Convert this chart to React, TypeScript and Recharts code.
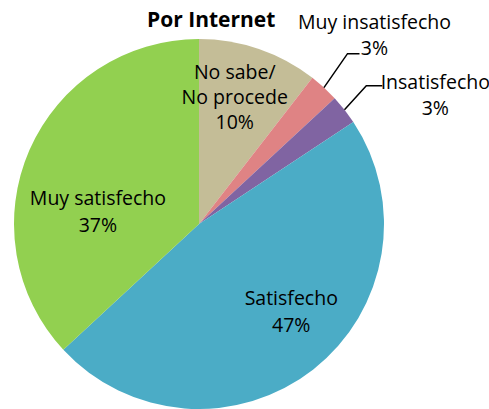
import React from 'react';
import { PieChart, Pie, Cell } from 'recharts';

const categories = ['No sabe/\nNo procede', 'Muy insatisfecho', 'Insatisfecho', 'Satisfecho', 'Muy satisfecho'];
const shares = [10.5, 2.6, 2.6, 47.4, 36.9];
const percentLabels = ['10%', '3%', '3%', '47%', '37%'];
const colors = ['#C4BD97', '#DF8384', '#8064A2', '#4BACC6', '#92D050'];
const title = 'Por Internet';

const data = categories.map((name, i) => ({ name, value: shares[i], pct: percentLabels[i] }));

const FONT = '"Open Sans", Lato, sans-serif';
const FS = 19.5;
const RAD = Math.PI / 180;

type Layout =
  | { kind: 'inner'; r: number; dA: number; lh: number }
  | { kind: 'outer'; ext: number; dA: number; run: number; mode: 'pctOnLine' | 'nameOnLine' };

const layouts: Layout[] = [
  { kind: 'inner', r: 0.714, dA: 3.2, lh: 25 },
  { kind: 'outer', ext: 41, dA: 1.4, run: 12, mode: 'pctOnLine' },
  { kind: 'outer', ext: 32, dA: 1.4, run: 16, mode: 'nameOnLine' },
  { kind: 'inner', r: 0.688, dA: 8.3, lh: 27 },
  { kind: 'inner', r: 0.55, dA: 16.9, lh: 27 },
];

const polar = (cx: number, cy: number, r: number, a: number) => ({
  x: cx + r * Math.cos(a * RAD),
  y: cy - r * Math.sin(a * RAD),
});

const renderLabel = (props: any) => {
  const { cx, cy, midAngle, outerRadius, index } = props;
  const lay = layouts[index];
  const lines = String(categories[index]).split('\n');
  const pct = percentLabels[index];
  const tStyle = { fontFamily: FONT, fontSize: FS, fill: '#000' } as const;
  if (lay.kind === 'inner') {
    const p = polar(cx, cy, outerRadius * lay.r, midAngle + lay.dA);
    const all = [...lines, pct];
    const n = all.length;
    const firstBase = p.y - ((n - 1) * lay.lh) / 2 + FS * 0.35;
    return (
      <g key={`lbl-${index}`}>
        {all.map((t, k) => (
          <text key={k} x={p.x} y={firstBase + k * lay.lh} textAnchor="middle" style={tStyle}>
            {t}
          </text>
        ))}
      </g>
    );
  }
  const s = polar(cx, cy, outerRadius, midAngle);
  const e = polar(cx, cy, outerRadius + lay.ext, midAngle + lay.dA);
  const endX = e.x + lay.run;
  let cxText: number;
  let base1: number;
  let base2: number;
  if (lay.mode === 'pctOnLine') {
    cxText = endX + 15;
    base2 = e.y + 1;
    base1 = base2 - 26;
  } else {
    cxText = endX + 53;
    base1 = e.y + 3;
    base2 = base1 + 26;
  }
  return (
    <g key={`lbl-${index}`}>
      <polyline
        points={`${s.x},${s.y} ${e.x},${e.y} ${endX},${e.y}`}
        fill="none"
        stroke="#000"
        strokeWidth={1.5}
      />
      <text x={cxText} y={base1} textAnchor="middle" style={tStyle}>
        {lines[0]}
      </text>
      <text x={cxText} y={base2} textAnchor="middle" style={tStyle}>
        {pct}
      </text>
    </g>
  );
};

export default function App() {
  return (
    <div style={{ position: 'absolute', left: 0, top: 0, width: 489, height: 409, background: '#fff' }}>
      <PieChart width={489} height={409} margin={{ top: 0, right: 0, bottom: 0, left: 0 }}>
        <Pie
          data={data}
          dataKey="value"
          nameKey="name"
          cx={199}
          cy={224}
          outerRadius={185}
          startAngle={90}
          endAngle={-270}
          stroke="none"
          label={renderLabel}
          labelLine={false}
          isAnimationActive={false}
        >
          {data.map((d, i) => (
            <Cell key={d.name} fill={colors[i]} />
          ))}
        </Pie>
      </PieChart>
      <svg width={489} height={40} style={{ position: 'absolute', left: 0, top: 0, pointerEvents: 'none' }}>
        <text x={147} y={26.7} style={{ fontFamily: FONT, fontSize: 21, fontWeight: 700, fill: '#000' }}>
          {title}
        </text>
      </svg>
    </div>
  );
}
